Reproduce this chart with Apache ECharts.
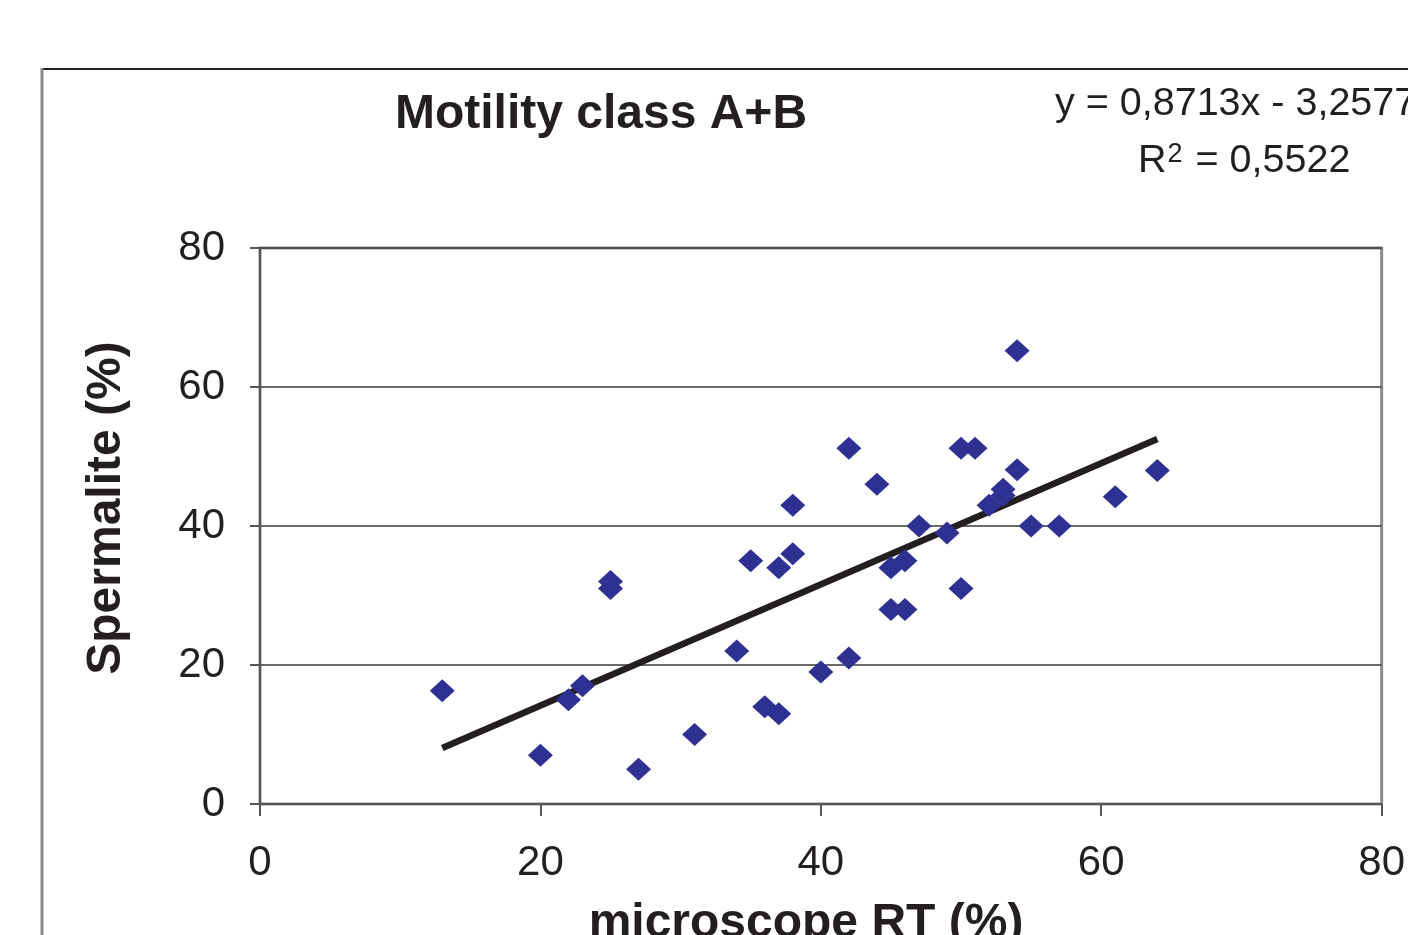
<!DOCTYPE html>
<html>
<head>
<meta charset="utf-8">
<script src="https://cdn.jsdelivr.net/npm/echarts@6/dist/echarts.min.js"></script>
<style>html,body{margin:0;padding:0;background:#fff;}#c{width:1408px;height:935px;}</style>
</head>
<body>
<div id="c"></div>
<script>
var microscopeRT = [13,20,22,23,25,25,27,31,34,35,36,37,37,38,38,40,42,42,44,45,45,46,46,47,49,50,50,51,52,53,53,54,54,55,57,61,64];
var spermalite   = [16.3,7,15,17,32,31,5,10,22,35,14,34,13,43,36,19,51.2,21,46,34,28,35,28,40,39,51.2,31,51.2,43,45.3,44.4,65.2,48.1,40,40,44.2,48];
var trendX = [13, 64];
var trendY = [8.07, 52.51];
var axisTicks = [0, 20, 40, 60, 80];

var points = microscopeRT.map(function (x, i) { return [x, spermalite[i]]; });
var trend = trendX.map(function (x, i) { return [x, trendY[i]]; });

var font = '"Liberation Sans", Arial, sans-serif';
var chart = echarts.init(document.getElementById('c'));
chart.setOption({
  animation: false,
  backgroundColor: '#fff',
  grid: { left: 260, right: 22, top: 248, bottom: 131, show: true, borderColor: '#8c8c8c', borderWidth: 3, backgroundColor: 'transparent' },
  xAxis: {
    type: 'value', min: axisTicks[0], max: axisTicks[axisTicks.length - 1], interval: 20,
    axisLine: { show: true, lineStyle: { color: '#555', width: 2 } },
    axisTick: { show: true, length: 12, lineStyle: { color: '#555', width: 2 } },
    axisLabel: { margin: 38, fontSize: 42, color: '#231f20', fontFamily: font },
    splitLine: { show: false }
  },
  yAxis: {
    type: 'value', min: axisTicks[0], max: axisTicks[axisTicks.length - 1], interval: 20,
    axisLine: { show: true, lineStyle: { color: '#555', width: 2 } },
    axisTick: { show: true, length: 10, lineStyle: { color: '#555', width: 2 } },
    axisLabel: { margin: 35, fontSize: 42, color: '#231f20', fontFamily: font },
    splitLine: { show: true, lineStyle: { color: '#3a3a3a', width: 1.5 } }
  },
  series: [
    {
      type: 'line', data: trend, symbol: 'none', silent: true, z: 2,
      lineStyle: { color: '#231f20', width: 6.5 }
    },
    {
      type: 'scatter', data: points, symbol: 'diamond', symbolSize: [25, 23], z: 3,
      itemStyle: { color: '#2e3192', opacity: 1 }
    }
  ],
  graphic: [
    { type: 'line', shape: { x1: 42, y1: 69, x2: 1408, y2: 69 }, style: { stroke: '#222', lineWidth: 2 } },
    { type: 'line', shape: { x1: 42, y1: 68, x2: 42, y2: 935 }, style: { stroke: '#888', lineWidth: 3 } },
    { type: 'text', x: 601, y: 115, style: { text: 'Motility class A+B', font: 'bold 48px ' + font, fill: '#231f20', textAlign: 'center', textVerticalAlign: 'middle' } },
    { type: 'text', x: 1055, y: 104, style: { text: 'y = 0,8713x - 3,2577', font: '39.5px ' + font, fill: '#231f20', textAlign: 'left', textVerticalAlign: 'middle' } },
    { type: 'text', x: 1138, y: 161, style: {
        text: '{a|R}{s|2}{a| = 0,5522}',
        rich: {
          a: { font: '39.5px ' + font, fill: '#231f20', verticalAlign: 'bottom', lineHeight: 40 },
          s: { font: '27px ' + font, fill: '#231f20', verticalAlign: 'top', lineHeight: 40, padding: [0, 2, 14, 1] }
        },
        textAlign: 'left', textVerticalAlign: 'middle' } },
    { type: 'text', x: 107, y: 508, rotation: Math.PI / 2, style: { text: 'Spermalite (%)', font: 'bold 48px ' + font, fill: '#231f20', textAlign: 'center', textVerticalAlign: 'middle' } },
    { type: 'text', x: 806, y: 924, style: { text: 'microscope RT (%)', font: 'bold 48px ' + font, fill: '#231f20', textAlign: 'center', textVerticalAlign: 'middle' } }
  ]
});
</script>
</body>
</html>
